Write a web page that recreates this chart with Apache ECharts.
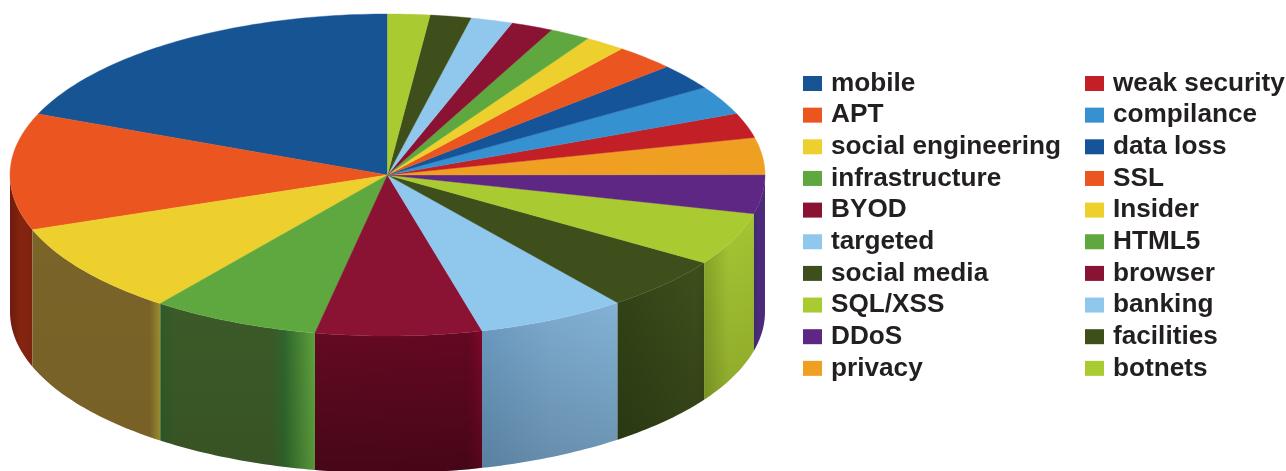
<!DOCTYPE html>
<html>
<head>
<meta charset="utf-8">
<style>html,body{margin:0;padding:0;background:#fff}#c{width:1286px;height:471px}</style>
<script src="https://cdn.jsdelivr.net/npm/echarts@6/dist/echarts.min.js"></script>
</head>
<body>
<div id="c"></div>
<script>
const categories = ['mobile','APT','social engineering','infrastructure','BYOD','targeted','social media','SQL/XSS','DDoS','privacy','weak security','compilance','data loss','SSL','Insider','HTML5','browser','banking','facilities','botnets'];
const shares = [18.8,11.7,9.2,7.2,7.1,6.4,5.4,5.3,3.9,3.7,2.5,2.9,2.6,2.6,1.75,1.75,1.8,1.8,1.75,1.8];
const topColors = ['#175494','#ea5520','#edd02d','#5ea83f','#8a1232','#90c7ec','#3e4f1b','#a9cb31','#5e2783','#ef9f22','#c31f26','#3591d0','#16549a','#ea5520','#edd02d','#5ea83f','#8a1232','#90c7ec','#3e4f1b','#a9cb31'];
const wallStops = {
  'APT': [[0,'#6e1c0e'],[0.5,'#85240f'],[1,'#7d2210']],
  'social engineering': [[0,'#7b6428'],[0.92,'#7b6428'],[1,'#9c9030']],
  'infrastructure': [[0,'#305a26'],[0.1,'#3c5a28'],[0.72,'#3c5a28'],[0.8,'#2f662c'],[0.92,'#4c8a36'],[1,'#5ea240']],
  'BYOD': [[0,'#640a22'],[0.92,'#640822'],[1,'#7c0828']],
  'targeted': [[0,'#6c9cc2'],[0.5,'#7dabcf'],[1,'#82b2d6']],
  'social media': [[0,'#324416'],[0.9,'#3e4f1c'],[1,'#3a4a18']],
  'SQL/XSS': [[0,'#8aa82a'],[0.5,'#a6c634'],[1,'#a4c430']],
  'DDoS': [[0,'#3f2a6c'],[0.5,'#4d2a7c'],[1,'#4d2a7c']]
};
const wallShade = {'APT':0,'social engineering':0.03,'infrastructure':0.08,'BYOD':0.3,'targeted':0.18,'social media':0.18,'SQL/XSS':0.14,'DDoS':0};
const legendLeft = categories.slice(0,10);
const legendRight = categories.slice(10);

const CX = 387.5, CY = 175, RX = 377.5, RY = 161, DEPTH = 137;
const total = shares.reduce((a,b)=>a+b,0);
const startAngles = [];
shares.reduce((acc,v,i)=>{startAngles[i]=acc;return acc+v/total*360;},0);
const pt = (deg,dy=0)=>{const t=deg*Math.PI/180;return [CX-RX*Math.sin(t),CY-RY*Math.cos(t)+dy];};
function arc(a,b,dy=0){const p=[];const n=Math.max(2,Math.ceil(Math.abs(b-a)));for(let i=0;i<=n;i++)p.push(pt(a+(b-a)*i/n,dy));return p;}

function makeRender(i){
  return function(){
    const a=startAngles[i], b=a+shares[i]/total*360, name=categories[i], kids=[];
    const wa=Math.max(a,90), wb=Math.min(b,270);
    if(wb>wa){
      const w=arc(wa,wb).concat(arc(wb,wa,DEPTH));
      kids.push({type:'polygon',z2:1,shape:{points:w},style:{fill:new echarts.graphic.LinearGradient(0,0,1,0,wallStops[name].map(s=>({offset:s[0],color:s[1]}))),stroke:null}});
      kids.push({type:'polygon',z2:2,shape:{points:w},style:{fill:new echarts.graphic.LinearGradient(0,0,0,1,[{offset:0,color:'rgba(0,0,0,0)'},{offset:1,color:'rgba(0,0,0,'+wallShade[name]+')'}])}});
    }
    kids.push({type:'polygon',z2:5,shape:{points:[[CX,CY]].concat(arc(a,b))},style:{fill:topColors[i],stroke:topColors[i],lineWidth:0.4}});
    return {type:'group',children:kids};
  };
}
const legendBase={orient:'vertical',top:69.5,itemWidth:19,itemHeight:15,itemGap:3.65,icon:'rect',selectedMode:false,padding:0,
  textStyle:{fontFamily:'Liberation Sans',fontWeight:'bold',fontSize:26.2,lineHeight:26,color:'#231f20',padding:[0,0,2,4]}};
const chart=echarts.init(document.getElementById('c'),null,{renderer:'canvas'});
chart.setOption({
  animation:false,backgroundColor:'#fff',
  legend:[Object.assign({left:803,data:legendLeft},legendBase),Object.assign({left:1085,data:legendRight},legendBase)],
  series:categories.map((n,i)=>({type:'custom',name:n,coordinateSystem:'none',silent:true,itemStyle:{color:topColors[i]},data:[[shares[i]]],renderItem:makeRender(i)}))
});
</script>
</body>
</html>
